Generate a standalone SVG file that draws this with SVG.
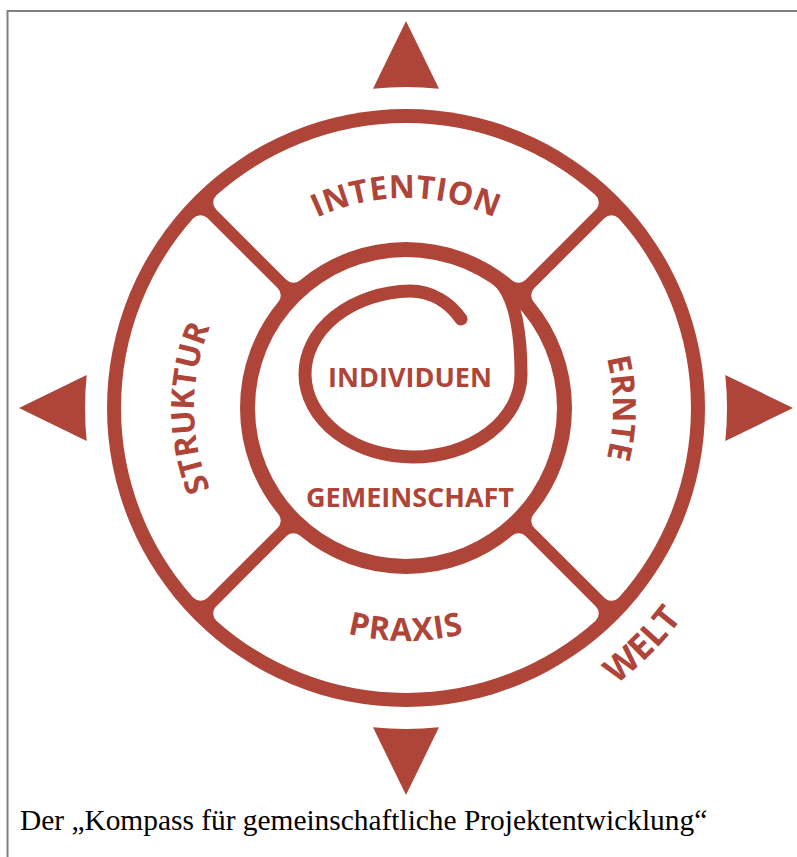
<svg xmlns="http://www.w3.org/2000/svg" width="797" height="857" viewBox="0 0 797 857">
<style>
.red{fill:#AF4539}
.lbl{font-family:"Open Sans","Noto Sans",sans-serif;font-weight:700;fill:#AF4539;font-size:32px}
.inner{font-family:"Open Sans","Noto Sans",sans-serif;font-weight:700;fill:#AF4539;font-size:27px;text-anchor:middle}
.sec{fill:#fff;stroke:#fff;stroke-width:20;stroke-linejoin:round}
.cap{font-family:"Liberation Serif","Times New Roman",serif;font-size:29.4px;fill:#000}
</style>
<defs>
<path id="sector" d="M -182.77,-205.45 A 275 275 0 0 1 182.77,-205.45 L 112.59,-135.27 A 176 176 0 0 0 -112.59,-135.27 Z"/>
<path id="tri" d="M -33,-319.3 A 321 321 0 0 1 33,-319.3 L 0,-387 Z"/>
<path id="pInt" d="M406,618 A210,210 0 1 1 406,198 A210,210 0 1 1 406,618"/>
<path id="pErn" d="M406,615 A207,207 0 1 1 406,201 A207,207 0 1 1 406,615"/>
<path id="pStr" d="M406,620 A212,212 0 1 1 406,196 A212,212 0 1 1 406,620"/>
<path id="pPrx" d="M406,175 A233,233 0 1 0 406,641 A233,233 0 1 0 406,175"/>
<path id="pWelt" d="M406,61 A347,347 0 1 0 406,755 A347,347 0 1 0 406,61"/>
</defs>
<rect width="797" height="857" fill="#fff"/>
<path d="M7.5,857 V11 H797" fill="none" stroke="#808080" stroke-width="2"/>

<g id="arrows" class="red">
<use href="#tri" transform="translate(406,408)"/>
<use href="#tri" transform="translate(406,408) rotate(90)"/>
<use href="#tri" transform="translate(406,408) rotate(180)"/>
<use href="#tri" transform="translate(406,408) rotate(270)"/>
</g>

<g id="compass">
<circle cx="406" cy="408" r="299" class="red"/>
<g class="sec">
<use href="#sector" transform="translate(406,408)"/>
<use href="#sector" transform="translate(406,408) rotate(90)"/>
<use href="#sector" transform="translate(406,408) rotate(180)"/>
<use href="#sector" transform="translate(406,408) rotate(270)"/>
</g>
<circle cx="406" cy="408" r="151" fill="#fff"/>
</g>

<g id="spiral">
<path d="M 498,280 C 514,295 521,330 521,375 A 108 83 0 1 1 410,291 C 432,291 450,303 461,319" fill="none" stroke="#AF4539" stroke-width="13" stroke-linecap="round"/>
</g>

<g id="intention"><text class="lbl" letter-spacing="0.5"><textPath href="#pInt" startOffset="50%" text-anchor="middle">INTENTION</textPath></text></g>
<g id="ernte"><text class="lbl"><textPath href="#pErn" startOffset="75%" text-anchor="middle">ERNTE</textPath></text></g>
<g id="struktur"><text class="lbl"><textPath href="#pStr" startOffset="25%" text-anchor="middle">STRUKTUR</textPath></text></g>
<g id="praxis"><text class="lbl" letter-spacing="1"><textPath href="#pPrx" startOffset="50%" text-anchor="middle">PRAXIS</textPath></text></g>
<g id="welt"><text class="lbl" style="font-size:35px"><textPath href="#pWelt" startOffset="62.5%" text-anchor="middle">WELT</textPath></text></g>
<g id="individuen"><text class="inner" x="410" y="387">INDIVIDUEN</text></g>
<g id="gemeinschaft"><text class="inner" x="410" y="507">GEMEINSCHAFT</text></g>

<text class="cap" x="20" y="830">Der „Kompass für gemeinschaftliche Projektentwicklung“</text>
</svg>
